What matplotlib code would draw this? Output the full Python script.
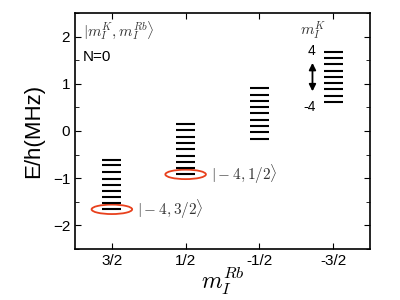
import matplotlib
matplotlib.use("Agg")
import matplotlib.pyplot as plt
from matplotlib.patches import Ellipse
from matplotlib.ticker import MultipleLocator

plt.rcParams['font.family'] = ['Liberation Sans', 'DejaVu Sans']
plt.rcParams['mathtext.fontset'] = 'cm'

# m_I^Rb columns and the nine m_I^K levels (-4 .. 4) in each
rb_labels = ['3/2', '1/2', '-1/2', '-3/2']
levels_32 = [-1.66, -1.53, -1.40, -1.28, -1.14, -1.01, -0.87, -0.73, -0.61]
levels_12 = [-0.92, -0.79, -0.66, -0.52, -0.38, -0.26, -0.12, 0.01, 0.15]
levels_m12 = [-0.17, -0.03, 0.11, 0.24, 0.38, 0.51, 0.64, 0.77, 0.91]
levels_m32 = [0.61, 0.75, 0.88, 1.01, 1.15, 1.28, 1.42, 1.54, 1.67]
all_levels = [levels_32, levels_12, levels_m12, levels_m32]

# marked states: (column, level, label)
marked = [(0, levels_32[0], r'$|-4,3/2\rangle$'),
          (1, levels_12[0], r'$|-4,1/2\rangle$')]

fig = plt.figure(figsize=(4, 3), dpi=100)
ax = fig.add_axes([0.1875, 0.17, 0.7375, 0.787])

for i, lv in enumerate(all_levels):
    ax.hlines(lv, i - 0.13, i + 0.13, color='black', linewidth=1.5)

for i, e, lab in marked:
    ax.add_patch(Ellipse((i, e), 0.55, 0.2, fill=False, edgecolor='#e8401c', linewidth=1.3))
    ax.text(i + 0.34, e, lab, fontsize=11, va='center', ha='left', color='#333333')

ax.text(-0.39, 2.12, r'$|m_I^K, m_I^{Rb}\rangle$', fontsize=11, va='center', color='#333333')
ax.text(-0.39, 1.57, 'N=0', fontsize=11, va='center')
ax.text(2.55, 2.12, r'$m_I^K$', fontsize=11, va='center', ha='left', color='#333333')
ax.text(2.7, 1.7, '4', fontsize=10, va='center', ha='center')
ax.text(2.68, 0.5, '-4', fontsize=10, va='center', ha='center')
ax.annotate('', xy=(2.72, 1.5), xytext=(2.72, 0.78),
            arrowprops=dict(arrowstyle='<|-|>', color='black', lw=1.3, mutation_scale=10))

ax.set_xlim(-0.5, 3.5)
ax.set_ylim(-2.5, 2.5)
ax.set_xticks(range(4))
ax.set_xticklabels(rb_labels)
ax.yaxis.set_major_locator(MultipleLocator(1))
ax.yaxis.set_minor_locator(MultipleLocator(0.5))
ax.tick_params(which='both', direction='in', top=True, right=True, labelsize=11)
ax.tick_params(which='major', length=4)
ax.tick_params(which='minor', length=3)
for s in ax.spines.values():
    s.set_linewidth(1.2)

ax.set_ylabel('E/h(MHz)', fontsize=16, labelpad=6)
ax.set_xlabel(r'$m_I^{Rb}$', fontsize=17, labelpad=-2)

fig.savefig('out.png', dpi=100)
